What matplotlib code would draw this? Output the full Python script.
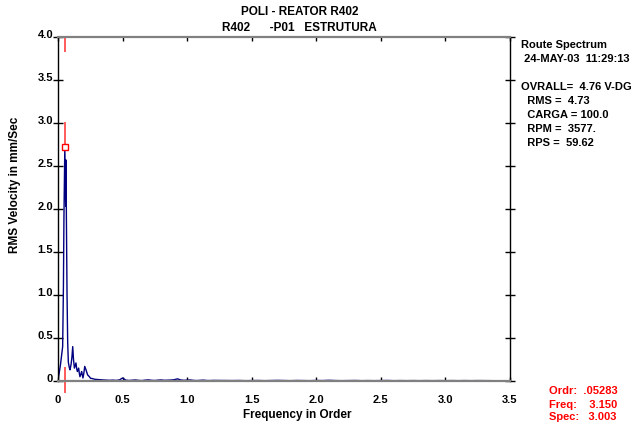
import matplotlib
matplotlib.use("Agg")
import matplotlib.pyplot as plt
import matplotlib.transforms as mtransforms

# ---- data ----
peak_order = [0.0, 0.010, 0.020, 0.028, 0.036, 0.042, 0.046, 0.050, 0.0528, 0.056, 0.0596,
              0.062, 0.065, 0.070, 0.075, 0.080, 0.087, 0.093, 0.101, 0.108, 0.114, 0.120,
              0.127, 0.133, 0.139, 0.145, 0.150, 0.155, 0.160, 0.165, 0.170, 0.177, 0.183,
              0.188, 0.193, 0.200, 0.207, 0.212, 0.217, 0.223, 0.230, 0.237, 0.243, 0.248,
              0.253, 0.262, 0.272, 0.285, 0.300]
peak_vel = [0.0, 0.10, 0.20, 0.30, 0.40, 1.10, 1.90, 2.45, 2.72, 2.35, 2.03,
            2.57, 1.90, 1.00, 0.45, 0.22, 0.16, 0.13, 0.19, 0.28, 0.40, 0.25,
            0.15, 0.18, 0.21, 0.14, 0.11, 0.13, 0.15, 0.09, 0.05, 0.08, 0.11,
            0.07, 0.035, 0.09, 0.17, 0.15, 0.13, 0.10, 0.07, 0.06, 0.05, 0.04,
            0.03, 0.03, 0.025, 0.02, 0.018]

tail_order = [0.325, 0.35, 0.375, 0.40, 0.425, 0.45, 0.475, 0.50, 0.525, 0.55, 0.575,
              0.60, 0.625, 0.65, 0.675, 0.70, 0.725, 0.75, 0.775, 0.80, 0.825, 0.85,
              0.875, 0.90, 0.925, 0.95, 0.975, 1.00, 1.025, 1.05, 1.075, 1.10, 1.125,
              1.15, 1.175, 1.20, 1.25, 1.30, 1.35, 1.40, 1.45, 1.50, 1.55, 1.60, 1.65,
              1.70, 1.75, 1.80, 1.85, 1.90, 1.95, 2.00, 2.05, 2.10, 2.15, 2.20, 2.25,
              2.30, 2.35, 2.40, 2.45, 2.50, 2.55, 2.60, 2.65, 2.70, 2.75, 2.80, 2.85,
              2.90, 2.95, 3.00, 3.05, 3.10, 3.15, 3.20, 3.25, 3.30, 3.35]
tail_vel = [0.015, 0.012, 0.010, 0.008, 0.010, 0.007, 0.012, 0.035, 0.010, 0.006, 0.009,
            0.012, 0.007, 0.005, 0.010, 0.013, 0.008, 0.006, 0.010, 0.012, 0.008, 0.009,
            0.011, 0.015, 0.025, 0.012, 0.008, 0.010, 0.012, 0.007, 0.005, 0.008, 0.010,
            0.006, 0.005, 0.007, 0.006, 0.004, 0.005, 0.006, 0.004, 0.005, 0.006, 0.004,
            0.005, 0.007, 0.005, 0.004, 0.006, 0.005, 0.004, 0.006, 0.005, 0.008, 0.005,
            0.004, 0.005, 0.006, 0.004, 0.005, 0.004, 0.005, 0.006, 0.004, 0.005, 0.004,
            0.005, 0.004, 0.005, 0.004, 0.005, 0.004, 0.005, 0.004, 0.005, 0.004, 0.005,
            0.004, 0.004]

cursor_order = 0.05283
cursor_vel = 2.72

x_ticks = [0, 0.5, 1.0, 1.5, 2.0, 2.5, 3.0, 3.5]
x_tick_labels = ["0", "0.5", "1.0", "1.5", "2.0", "2.5", "3.0", "3.5"]
y_ticks = [0, 0.5, 1.0, 1.5, 2.0, 2.5, 3.0, 3.5, 4.0]
y_tick_labels = ["0", "0.5", "1.0", "1.5", "2.0", "2.5", "3.0", "3.5", "4.0"]

info_lines = ["Route Spectrum", " 24-MAY-03  11:29:13", "",
              "OVRALL=  4.76 V-DG", "  RMS =  4.73", "  CARGA = 100.0",
              "  RPM =  3577.", "  RPS =  59.62"]
cursor_lines = ["Ordr:  .05283", "Freq:    3.150", "Spec:   3.003"]

# ---- figure ----
plt.rcParams['font.family'] = ['Liberation Sans', 'DejaVu Sans']
plt.rcParams['font.weight'] = 'bold'
fig = plt.figure(figsize=(6.39, 4.28), dpi=100)
ax = fig.add_axes([58/639, 1-381/428, (510-58)/639, (381-37)/428])

xs = peak_order + tail_order
ys = peak_vel + tail_vel
ax.plot(xs, ys, color='#000080', lw=1.0)

red = '#ff5a5a'
ax.plot([cursor_order, cursor_order], [3.84, 4.0], color=red, lw=1.4)
ax.plot([cursor_order, cursor_order], [2.76, 3.0], color=red, lw=1.4)
ax.plot([cursor_order, cursor_order], [-0.13, 0.15], color=red, lw=1.4, clip_on=False)
ax.plot([cursor_order], [cursor_vel], marker='s', ms=5, mfc='white', mec='red', mew=1.0, ls='none')

ax.set_xlim(0, 3.5)
ax.set_ylim(0, 4.0)
ax.set_xticks(x_ticks)
ax.set_xticklabels(x_tick_labels, fontsize=8, fontweight='bold')
ax.set_yticks(y_ticks)
ax.set_yticklabels(y_tick_labels, fontsize=8, fontweight='bold')

ax.tick_params(axis='x', direction='in', length=3, width=1, top=True, pad=10)
ax.tick_params(axis='y', direction='inout', length=7, width=1, right=True, pad=0)

offset = mtransforms.ScaledTranslation(0, 3/100, fig.dpi_scale_trans)
for lbl in ax.get_yticklabels():
    lbl.set_transform(lbl.get_transform() + offset)

for s in ['left', 'right']:
    ax.spines[s].set_color('black')
    ax.spines[s].set_linewidth(1.0)
for s in ['top', 'bottom']:
    ax.spines[s].set_color('#808080')
    ax.spines[s].set_linewidth(1.6)

ax.set_xlabel("Frequency in Order", fontsize=8.5, fontweight='bold')
ax.xaxis.set_label_coords((297-58)/(510-58), -(415-381)/344)
ax.xaxis.label.set_va('center')
ax.set_ylabel("RMS Velocity in mm/Sec", fontsize=8.5, fontweight='bold')
ax.yaxis.set_label_coords(-(58-15)/452, (381-185)/344)
ax.yaxis.label.set_va('center')

fig.text(300/639, 1-12/428, "POLI - REATOR R402", ha='center', va='center',
         fontsize=8.5, fontweight='bold')
fig.text(299/639, 1-28/428, "R402      -P01   ESTRUTURA", ha='center', va='center',
         fontsize=8.5, fontweight='bold')

y0 = 45
for i, line in enumerate(info_lines):
    if line:
        fig.text(521/639, 1-(y0 + i*14)/428, line, ha='left', va='center',
                 fontsize=8, fontweight='bold')

for i, line in enumerate(cursor_lines):
    fig.text(549/639, 1-(391.5 + i*13)/428, line, ha='left', va='center',
             fontsize=8, fontweight='bold', color='red')

fig.savefig("out.png", dpi=100)
